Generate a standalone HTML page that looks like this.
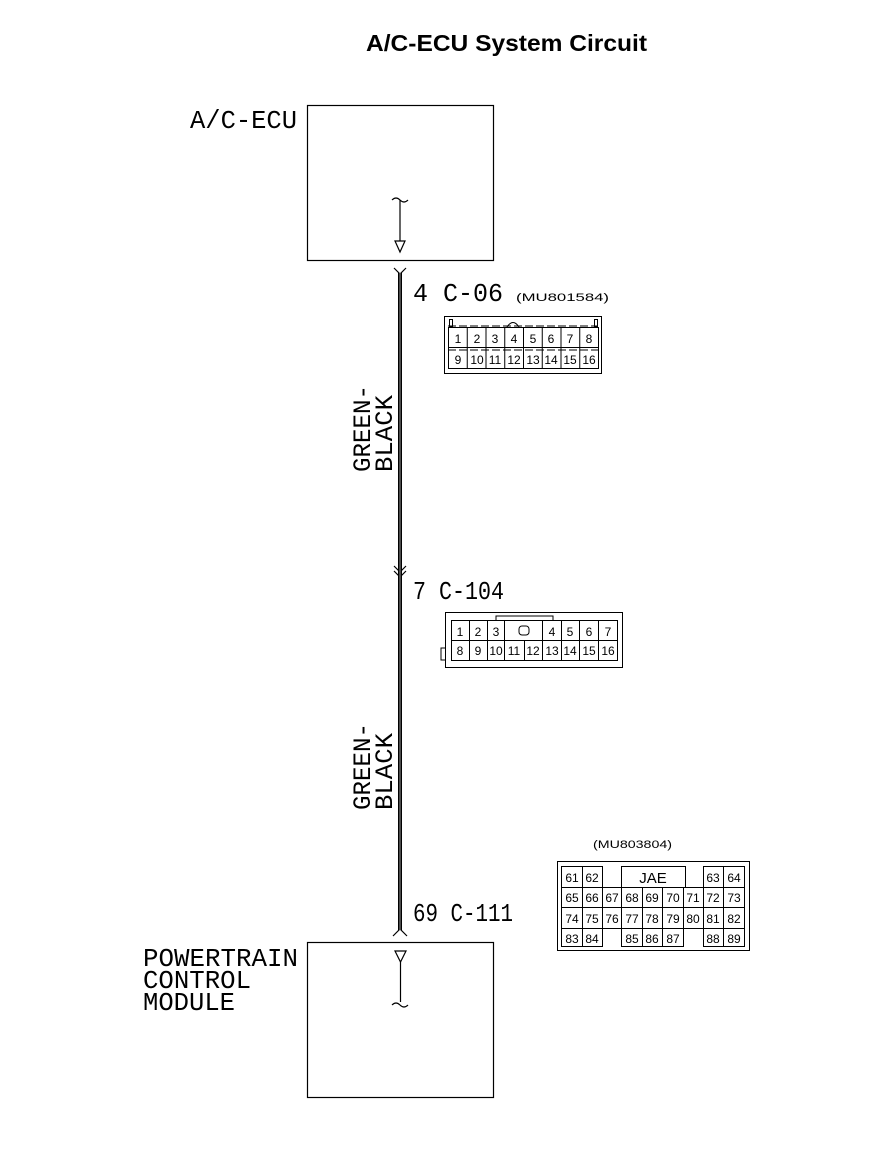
<!DOCTYPE html>
<html><head><meta charset="utf-8"><style>
html,body{margin:0;padding:0;background:#fff}
svg{display:block}
text{font-family:"Liberation Sans",sans-serif;fill:#000}
.m{font-family:"Liberation Mono",monospace}
.n{font-size:12px;font-family:"Liberation Sans",sans-serif}
</style></head><body>
<svg width="896" height="1150" viewBox="0 0 896 1150" xmlns="http://www.w3.org/2000/svg">
<text x="366" y="51" font-size="23" font-weight="bold" textLength="281" lengthAdjust="spacingAndGlyphs">A/C-ECU System Circuit</text>
<g fill="none" stroke="#000" stroke-width="1.2">
<rect x="307.5" y="105.5" width="186" height="155"/>
<rect x="307.5" y="942.5" width="186" height="155"/>
<path d="M392 200 q4 -4 8 0 q4 4 8 0"/>
<line x1="400" y1="200" x2="400" y2="241"/>
<path d="M395 241 L405 241 L400 252 Z"/>
<path d="M395 951 L406 951 L400.5 962 Z"/>
<line x1="400.5" y1="962" x2="400.5" y2="1002"/>
<path d="M392 1005 q4 -4 8 0 q4 4 8 0"/>
<path d="M394 268 L400 274 L406 268"/>
<path d="M394 566 L400 572 L406 566 M394 571 L400 577 L406 571"/>
<path d="M393 936 L400 929 L407 936"/>
</g>
<rect x="398" y="273" width="4" height="657" fill="#000"/>
<line x1="400" y1="273" x2="400" y2="930" stroke="#fff" stroke-width="0.6"/>
<text class="m" x="190" y="128" font-size="26" textLength="107" lengthAdjust="spacingAndGlyphs">A/C-ECU</text>
<text class="m" x="143" y="966" font-size="26" textLength="155" lengthAdjust="spacingAndGlyphs">POWERTRAIN</text>
<text class="m" x="143" y="988" font-size="26" textLength="108" lengthAdjust="spacingAndGlyphs">CONTROL</text>
<text class="m" x="143" y="1010" font-size="26" textLength="92" lengthAdjust="spacingAndGlyphs">MODULE</text>
<text class="m" x="413" y="301" font-size="26" textLength="90" lengthAdjust="spacingAndGlyphs">4 C-06</text>
<text x="516" y="301" font-size="11" textLength="93" lengthAdjust="spacingAndGlyphs">(MU801584)</text>
<text class="m" x="413" y="599" font-size="26" textLength="91" lengthAdjust="spacingAndGlyphs">7 C-104</text>
<text class="m" x="413" y="921" font-size="26" textLength="100" lengthAdjust="spacingAndGlyphs">69 C-111</text>
<text x="593" y="848" font-size="11" textLength="79" lengthAdjust="spacingAndGlyphs">(MU803804)</text>
<g transform="translate(370 472) rotate(-90)"><text class="m" x="0" y="0" font-size="25" textLength="87" lengthAdjust="spacingAndGlyphs">GREEN-</text></g>
<g transform="translate(392 472) rotate(-90)"><text class="m" x="0" y="0" font-size="25" textLength="77" lengthAdjust="spacingAndGlyphs">BLACK</text></g>
<g transform="translate(370 810) rotate(-90)"><text class="m" x="0" y="0" font-size="25" textLength="87" lengthAdjust="spacingAndGlyphs">GREEN-</text></g>
<g transform="translate(392 810) rotate(-90)"><text class="m" x="0" y="0" font-size="25" textLength="77" lengthAdjust="spacingAndGlyphs">BLACK</text></g>
<g fill="none" stroke="#000" stroke-width="1">
<rect x="444.5" y="316.5" width="157" height="57"/>
<rect x="448.5" y="327.5" width="150" height="41"/>
<line x1="448" y1="347.5" x2="598" y2="347.5"/>
<line x1="448" y1="350" x2="598" y2="350" stroke-dasharray="8 3"/>
<line x1="448" y1="326" x2="598" y2="326" stroke-dasharray="8 3"/>
<path d="M507 327 q6 -9 12 0"/>
<rect x="449.5" y="319.5" width="3" height="7"/>
<rect x="594.5" y="319.5" width="3" height="7"/>
<path d="M467.25 328 V369 M486 328 V369 M504.75 328 V369 M523.5 328 V369 M542.25 328 V369 M561 328 V369 M579.75 328 V369"/>
</g>
<g class="n" text-anchor="middle">
<text x="458" y="343">1</text><text x="477" y="343">2</text><text x="495" y="343">3</text><text x="514" y="343">4</text><text x="533" y="343">5</text><text x="551" y="343">6</text><text x="570" y="343">7</text><text x="589" y="343">8</text>
<text x="458" y="364">9</text><text x="477" y="364">10</text><text x="495" y="364">11</text><text x="514" y="364">12</text><text x="533" y="364">13</text><text x="551" y="364">14</text><text x="570" y="364">15</text><text x="589" y="364">16</text>
</g>
<g fill="none" stroke="#000" stroke-width="1">
<rect x="445.5" y="612.5" width="177" height="55"/>
<rect x="451.5" y="620.5" width="166" height="40"/>
<line x1="451" y1="640.5" x2="617" y2="640.5"/>
<path d="M496 620 V616 H553 V620"/>
<path d="M445 648 H441 V660 H445"/>
<path d="M469.5 621 V660 M487.5 621 V660 M504.5 621 V660 M542.5 621 V660 M561.5 621 V660 M579.5 621 V660 M598.5 621 V660 M524.5 641 V660"/>
<rect x="519" y="626" width="10" height="9" rx="3"/>
</g>
<g class="n" text-anchor="middle">
<text x="460" y="636">1</text><text x="478" y="636">2</text><text x="496" y="636">3</text><text x="552" y="636">4</text><text x="570" y="636">5</text><text x="589" y="636">6</text><text x="608" y="636">7</text>
<text x="460" y="655">8</text><text x="478" y="655">9</text><text x="496" y="655">10</text><text x="514" y="655">11</text><text x="533" y="655">12</text><text x="552" y="655">13</text><text x="570" y="655">14</text><text x="589" y="655">15</text><text x="608" y="655">16</text>
</g>
<g fill="none" stroke="#000" stroke-width="1">
<rect x="557.5" y="861.5" width="192" height="89"/>
<rect x="561.5" y="866.5" width="41" height="80"/>
<rect x="561.5" y="887.5" width="183" height="41"/>
<rect x="621.5" y="866.5" width="64" height="21"/>
<rect x="621.5" y="928.5" width="62" height="18"/>
<rect x="703.5" y="866.5" width="41" height="80"/>
<path d="M582.5 866 V947 M621.5 887 V929 M642.5 887 V947 M662.5 887 V947 M683.5 887 V929 M723.5 866 V947"/>
<line x1="561" y1="907.5" x2="745" y2="907.5"/>
</g>
<g class="n" text-anchor="middle">
<text x="572" y="882">61</text><text x="592" y="882">62</text><text x="653" y="883" font-size="15">JAE</text><text x="713" y="882">63</text><text x="734" y="882">64</text>
<text x="572" y="902">65</text><text x="592" y="902">66</text><text x="612" y="902">67</text><text x="632" y="902">68</text><text x="652" y="902">69</text><text x="673" y="902">70</text><text x="693" y="902">71</text><text x="713" y="902">72</text><text x="734" y="902">73</text>
<text x="572" y="923">74</text><text x="592" y="923">75</text><text x="612" y="923">76</text><text x="632" y="923">77</text><text x="652" y="923">78</text><text x="673" y="923">79</text><text x="693" y="923">80</text><text x="713" y="923">81</text><text x="734" y="923">82</text>
<text x="572" y="943">83</text><text x="592" y="943">84</text><text x="632" y="943">85</text><text x="652" y="943">86</text><text x="673" y="943">87</text><text x="713" y="943">88</text><text x="734" y="943">89</text>
</g>
</svg>
</body></html>
